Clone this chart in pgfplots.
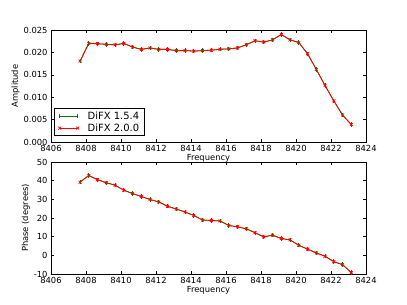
\documentclass[border=0pt]{standalone}
\usepackage{fontspec}
\setmainfont{DejaVu Sans}
\usepackage{pgfplots}
\pgfplotsset{compat=1.18}
\definecolor{mplgreen}{rgb}{0,0.5,0}
\definecolor{mplred}{rgb}{1,0,0}
\pgfplotsset{
  common/.style={
    width=315bp, height=112bp, scale only axis,
    xmin=8406, xmax=8424, xtick={8406,8408,...,8424},
    tick align=inside, xtick pos=both, ytick pos=both,
    major tick length=3bp,
    every tick/.style={black, line width=0.5pt},
    axis line style={line width=0.6pt},
    /pgf/number format/assume math mode=true,
    /pgf/number format/1000 sep={},
    ticklabel style={font=\fontsize{8.4}{10}\selectfont},
    label style={font=\fontsize{8.4}{10}\selectfont},
    xlabel={Frequency},
    xlabel style={yshift=4bp},
    ylabel style={yshift=-3bp},
    scaled y ticks=false,
    legend image code/.code={\draw[#1] plot coordinates {(0bp,0bp) (18bp,0bp)};},
  },
  g/.style={mplgreen, line width=0.8pt, mark=|, mark size=2.2bp},
  r/.style={mplred, line width=0.8pt, mark=x, mark size=2bp},
}
\pgfplotstableread{
f amp phase
8407.66 0.01806 39.2
8408.16 0.0220 42.8
8408.66 0.02194 40.5
8409.16 0.0218 38.9
8409.66 0.0217 37.6
8410.16 0.0220 34.9
8410.66 0.0212 33.1
8411.16 0.02067 31.5
8411.66 0.0210 29.9
8412.16 0.02067 28.6
8412.66 0.02067 26.3
8413.16 0.0204 24.8
8413.66 0.0204 23.2
8414.16 0.0203 21.4
8414.66 0.0204 18.9
8415.16 0.0205 18.7
8415.66 0.0207 18.4
8416.16 0.0208 16.0
8416.66 0.0210 15.3
8417.16 0.0217 14.2
8417.66 0.0226 12.1
8418.16 0.0223 9.9
8418.66 0.0228 10.8
8419.16 0.0240 9.0
8419.66 0.0228 8.3
8420.16 0.0222 5.4
8420.66 0.0197 3.3
8421.16 0.0162 1.3
8421.66 0.0126 -0.5
8422.16 0.0092 -3.4
8422.66 0.0060 -5.0
8423.16 0.0039 -9.3
}\data
\begin{document}
\begin{tikzpicture}[x=1bp,y=1bp]
\path[use as bounding box] (0,0) rectangle (407,305);
\begin{axis}[common, at={(51bp,163bp)}, anchor=south west,
  ymin=0, ymax=0.025, ytick={0,0.005,...,0.025},
  yticklabel style={/pgf/number format/.cd, fixed, fixed zerofill, precision=3},
  ylabel={Amplitude},
  legend style={at={(0.0095,0.054)}, anchor=south west, draw=black, line width=0.6pt,
    font=\fontsize{10}{12}\selectfont, inner xsep=4bp, inner ysep=1.5bp, row sep=0bp,
    /tikz/every odd column/.style={column sep=7bp},
    nodes={inner sep=1.5bp}},
  legend cell align=left]
\addplot[g] table[x=f,y=amp]{\data};
\addlegendentry{DiFX 1.5.4}
\addplot[r] table[x=f,y=amp]{\data};
\addlegendentry{DiFX 2.0.0}
\end{axis}
\begin{axis}[common, at={(51bp,31bp)}, anchor=south west,
  ymin=-10, ymax=50, ytick={-10,0,...,50},
  ylabel={Phase (degrees)}]
\addplot[g] table[x=f,y=phase]{\data};
\addplot[r] table[x=f,y=phase]{\data};
\end{axis}
\end{tikzpicture}
\end{document}
